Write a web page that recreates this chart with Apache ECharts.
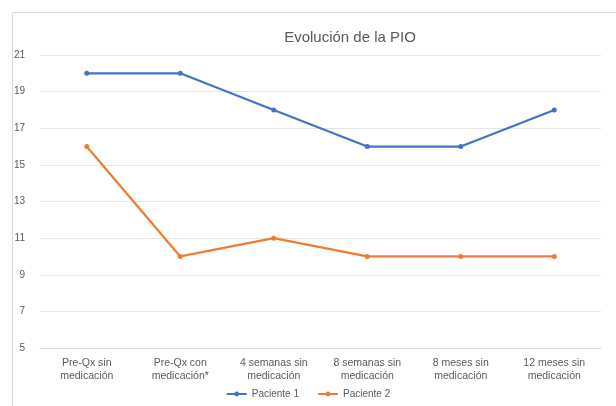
<!DOCTYPE html>
<html><head><meta charset="utf-8">
<script src="https://cdn.jsdelivr.net/npm/echarts@6/dist/echarts.min.js"></script>
<style>html,body{margin:0;padding:0;background:#fff}#c{width:616px;height:406px}</style>
</head><body><div id="c"></div>
<script>
const categories = ["Pre-Qx sin\nmedicación","Pre-Qx con\nmedicación*","4 semanas sin\nmedicación","8 semanas sin\nmedicación","8 meses sin\nmedicación","12 meses sin\nmedicación"];
const paciente1 = [20,20,18,16,16,18];
const paciente2 = [16,10,11,10,10,10];
const seriesNames = ["Paciente 1","Paciente 2"];
const chart = echarts.init(document.getElementById('c'));
const font = 'Liberation Sans, Arial, sans-serif';
chart.setOption({
  animation:false,
  graphic:[{type:'rect',shape:{x:12.5,y:12.5,width:620,height:420},style:{fill:'none',stroke:'#d9d9d9',lineWidth:1}}],
  title:{text:'Evolución de la PIO',left:345,top:25,textAlign:'center',textStyle:{fontFamily:font,fontSize:15,fontWeight:'normal',color:'#595959'}},
  legend:{bottom:2,left:'center',itemWidth:20,itemHeight:6,itemGap:18,textStyle:{fontFamily:font,fontSize:10,color:'#595959'},data:seriesNames},
  grid:{left:40,right:15,top:55,bottom:58,containLabel:false},
  xAxis:{type:'category',data:categories,boundaryGap:true,axisLine:{lineStyle:{color:'#d9d9d9'}},axisTick:{show:false},
    axisLabel:{fontFamily:font,fontSize:10.5,color:'#595959',lineHeight:13,margin:9,interval:0}},
  yAxis:{type:'value',min:5,max:21,interval:2,axisLine:{show:false},axisTick:{show:false},
    splitLine:{lineStyle:{color:'#e6e6e6'}},axisLabel:{fontFamily:font,fontSize:10,color:'#595959',margin:15}},
  series:[
    {name:seriesNames[0],type:'line',data:paciente1,color:'#4472C4',lineStyle:{width:2.25},symbol:'circle',symbolSize:5},
    {name:seriesNames[1],type:'line',data:paciente2,color:'#ED7D31',lineStyle:{width:2.25},symbol:'circle',symbolSize:5}
  ]
});
</script></body></html>
